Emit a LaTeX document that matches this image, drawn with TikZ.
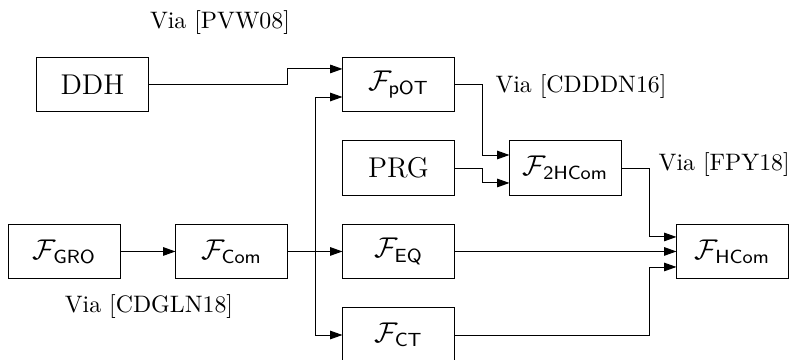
\documentclass[tikz,border=0pt]{standalone}
\usepackage{amsmath,amssymb}
\usepackage{tikz}
\usetikzlibrary{arrows.meta, positioning, calc}

\begin{document}
\begin{tikzpicture}[
    func/.style={draw, minimum width=1.64cm, minimum height=0.81cm,
                 inner sep=2pt, font=\large},
    via/.style={inner sep=0pt},
    >={Triangle[length=5.2pt, width=3.6pt]},
    line width=0.4pt,
]
\useasboundingbox (0,0) rectangle (11.661,5.314);
% functionalities and assumptions
\node[func] (DDH)   at (1.365,4.067) {DDH};
\node[func] (pOT)   at (5.882,4.067) {$\mathcal{F}_{\mathsf{pOT}}$};
\node[func] (PRG)   at (5.882,2.834) {PRG};
\node[func] (tHCom) at (8.347,2.834) {$\mathcal{F}_{\mathsf{2HCom}}$};
\node[func] (GRO)   at (0.952,1.602) {$\mathcal{F}_{\mathsf{GRO}}$};
\node[func] (Com)   at (3.417,1.602) {$\mathcal{F}_{\mathsf{Com}}$};
\node[func] (EQ)    at (5.882,1.602) {$\mathcal{F}_{\mathsf{EQ}}$};
\node[func] (CT)    at (5.882,0.369) {$\mathcal{F}_{\mathsf{CT}}$};
\node[func] (HCom)  at (10.812,1.602) {$\mathcal{F}_{\mathsf{HCom}}$};
% references
\node[via] (vPVW)   at (3.247,4.975) {Via [PVW08]};
\node[via] (vCDDDN) at (8.576,4.030) {Via [CDDDN16]};
\node[via] (vFPY)   at (10.690,2.878) {Via [FPY18]};
\node[via] (vCDGLN) at (2.199,0.782) {Via [CDGLN18]};
% junction columns
\coordinate (jDDH) at (4.237,0);
\coordinate (jCom) at (4.650,0);
\coordinate (jOT)  at (7.115,0);
\coordinate (jHC)  at (9.580,0);
% connectors
\draw[->] (DDH.east) -- (DDH.east -| jDDH) |- ([yshift=0.229cm]pOT.west);
\draw[->] (GRO) -- (Com);
\draw[->] (Com) -- (EQ);
\draw[->] (Com.east -| jCom) |- ([yshift=-0.185cm]pOT.west);
\draw[->] (Com.east -| jCom) |- (CT.west);
\draw[->] (pOT.east) -- (pOT.east -| jOT) |- ([yshift=0.192cm]tHCom.west);
\draw[->] (PRG.east) -- (PRG.east -| jOT) |- ([yshift=-0.221cm]tHCom.west);
\draw[->] (tHCom.east) -- (tHCom.east -| jHC) |- ([yshift=0.214cm]HCom.west);
\draw[->] (EQ) -- (HCom);
\draw[->] (CT.east) -- (CT.east -| jHC) |- ([yshift=-0.229cm]HCom.west);
\end{tikzpicture}
\end{document}
